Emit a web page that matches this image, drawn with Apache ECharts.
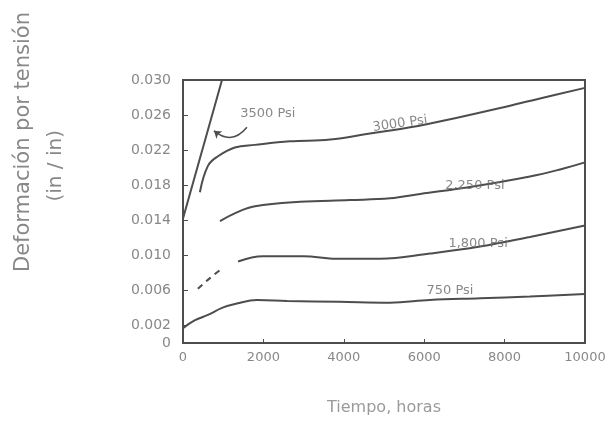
<!DOCTYPE html>
<html>
<head>
<meta charset="utf-8">
<title>Deformación por tensión vs Tiempo</title>
<script src="https://cdn.jsdelivr.net/npm/echarts@6/dist/echarts.min.js"></script>
<style>
  html, body { margin: 0; padding: 0; background: #fff; }
  #chart { width: 615px; height: 421px; }
</style>
</head>
<body>
<div id="chart"></div>
<script>
// Creep curves: strain (in/in) against time (hours) for several stress levels.
const yTickValues = [0, 0.002, 0.006, 0.010, 0.014, 0.018, 0.022, 0.026, 0.030];
const xTickValues = [0, 2000, 4000, 6000, 8000, 10000];

const t3500 = [0, 970];
const e3500 = [0.0142, 0.0300];

const t3000 = [420, 620, 870, 1290, 1790, 2660, 3660, 4650, 5650, 6820, 7890, 8880, 10000];
const e3000 = [0.0172, 0.0202, 0.0213, 0.0223, 0.0226, 0.0230, 0.0232, 0.0239, 0.0246, 0.0257, 0.0268, 0.0279, 0.0291];

const t2250 = [920, 1340, 1790, 2910, 4150, 5150, 5900, 7140, 8630, 9380, 10000];
const e2250 = [0.0139, 0.0149, 0.0156, 0.0161, 0.0163, 0.0165, 0.0170, 0.0178, 0.0190, 0.0198, 0.0206];

// early part of the 1,800 psi curve is drawn dashed
const t1800a = [370, 670, 970];
const e1800a = [0.0062, 0.0074, 0.0085];
const t1800 = [1370, 1990, 2990, 3830, 4900, 6140, 7390, 8630, 10000];
const e1800 = [0.0093, 0.0099, 0.0099, 0.0096, 0.0096, 0.0102, 0.0110, 0.0121, 0.0134];

const t750 = [0, 300, 620, 970, 1340, 1840, 2590, 3900, 5150, 6140, 7390, 8630, 10000];
const e750 = [0.0017, 0.0026, 0.0032, 0.0040, 0.0045, 0.0049, 0.0048, 0.0047, 0.0046, 0.0049, 0.0051, 0.0053, 0.0056];

const curveNames = ['3500 Psi', '3000 Psi', '2,250 Psi', '1,800 Psi', '750 Psi'];
// where each stress label is written, in data units
const labelAnchorT = [2110, 5400, 7260, 7340, 6640];
const labelAnchorE = [0.0262, 0.0250, 0.0179, 0.0113, 0.0060];
const labelTilt = [0, 8, 0, 0, 0];

const zip = (xs, ys) => xs.map((x, i) => [x, ys[i]]);

const ink = '#4d4d4d';
const textInk = '#888888';
const handFont = '"DejaVu Sans", sans-serif';

function curve(name, xs, ys, dashed) {
  return {
    name: name,
    type: 'line',
    data: zip(xs, ys),
    smooth: 0.4,
    showSymbol: false,
    lineStyle: { color: ink, width: 2, type: dashed ? [6, 5] : 'solid' },
    z: 3
  };
}

const chart = echarts.init(document.getElementById('chart'), null, { renderer: 'canvas' });

const option = {
  backgroundColor: '#ffffff',
  animation: false,
  grid: {
    left: 183, right: 30, top: 80, bottom: 76,
    show: true, borderColor: ink, borderWidth: 2, backgroundColor: 'transparent'
  },
  xAxis: {
    type: 'value',
    min: 0, max: 10000, interval: 2000,
    name: 'Tiempo, horas',
    nameLocation: 'middle',
    nameGap: 57,
    nameTextStyle: { color: '#9a9a9a', fontSize: 16, fontFamily: handFont },
    axisLine: { lineStyle: { color: ink, width: 2 } },
    axisTick: { show: true, inside: true, length: 4, lineStyle: { color: ink } },
    axisLabel: {
      color: textInk, fontSize: 13, fontFamily: handFont, margin: 8,
      customValues: xTickValues,
      formatter: v => String(v)
    },
    splitLine: { show: false }
  },
  yAxis: {
    type: 'value',
    min: 0, max: 0.03,
    axisLine: { show: true, lineStyle: { color: ink, width: 2 } },
    axisTick: { show: true, inside: true, length: 5, customValues: yTickValues, lineStyle: { color: ink } },
    axisLabel: {
      color: textInk, fontSize: 14, fontFamily: handFont, margin: 12,
      customValues: yTickValues,
      formatter: v => (v === 0 ? '0' : v.toFixed(3))
    },
    splitLine: { show: false }
  },
  graphic: [
    {
      type: 'text', left: 13, top: 12, rotation: Math.PI / 2,
      style: { text: 'Deformación por tensión', fill: textInk, font: '21px ' + handFont }
    },
    {
      type: 'text', left: 46, top: 130, rotation: Math.PI / 2,
      style: { text: '(in / in)', fill: textInk, font: '20px ' + handFont }
    }
  ],
  series: [
    curve('3500 Psi', t3500, e3500, false),
    curve('3000 Psi', t3000, e3000, false),
    curve('2,250 Psi', t2250, e2250, false),
    curve('1,800 Psi (inicio)', t1800a, e1800a, true),
    curve('1,800 Psi', t1800, e1800, false),
    curve('750 Psi', t750, e750, false),
    {
      name: 'rótulos',
      type: 'scatter',
      symbolSize: 1,
      itemStyle: { color: 'rgba(0,0,0,0)' },
      data: curveNames.map((n, i) => ({
        value: [labelAnchorT[i], labelAnchorE[i]],
        label: { rotate: labelTilt[i] },
        name: n
      })),
      label: {
        show: true, position: 'inside',
        formatter: p => p.name,
        color: '#6a6a6a', fontSize: 13, fontFamily: handFont
      },
      z: 4
    },
    {
      name: 'flecha',
      type: 'lines',
      coordinateSystem: 'cartesian2d',
      symbol: ['none', 'arrow'],
      symbolSize: 7,
      lineStyle: { color: ink, width: 1.5, curveness: 0.5, opacity: 1 },
      data: [{ coords: [[1590, 0.0246], [770, 0.0242]] }],
      z: 4
    }
  ]
};

chart.setOption(option);
</script>
</body>
</html>
